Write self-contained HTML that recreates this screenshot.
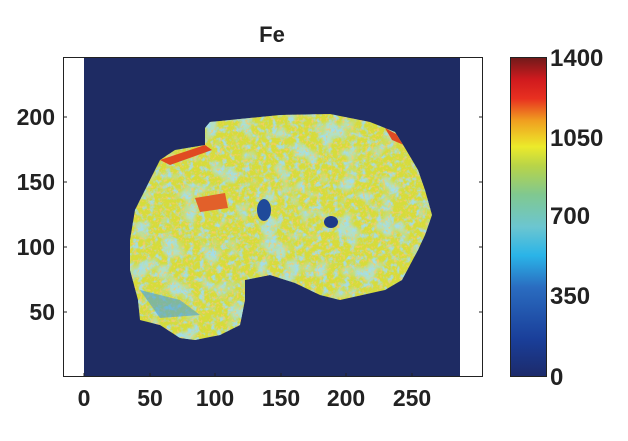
<!DOCTYPE html>
<html><head><style>
body{margin:0;background:#fff;width:628px;height:436px;overflow:hidden;font-family:"Liberation Sans",Arial,sans-serif}
</style></head><body>
<svg width="628" height="436" xmlns="http://www.w3.org/2000/svg" font-family="Liberation Sans Narrow, Liberation Sans, Arial, sans-serif" font-weight="bold">
<defs>
<linearGradient id="cb" x1="0" y1="1" x2="0" y2="0">
<stop offset="0" stop-color="#1c2a6a"/>
<stop offset="0.12" stop-color="#1a3f9a"/>
<stop offset="0.28" stop-color="#2a6cc0"/>
<stop offset="0.38" stop-color="#2ab4e8"/>
<stop offset="0.47" stop-color="#6cc6d0"/>
<stop offset="0.57" stop-color="#80c890"/>
<stop offset="0.66" stop-color="#b8d448"/>
<stop offset="0.72" stop-color="#ecea2a"/>
<stop offset="0.8" stop-color="#f0a020"/>
<stop offset="0.87" stop-color="#e83020"/>
<stop offset="0.93" stop-color="#d01a1e"/>
<stop offset="1" stop-color="#6e1a1a"/>
</linearGradient>
<filter id="noise" x="0" y="0" width="100%" height="100%">
<feTurbulence type="fractalNoise" baseFrequency="0.18" numOctaves="3" seed="4"/>
<feColorMatrix type="matrix" values="0 0 0 0 0.35  0 0 0 0 0.72  0 0 0 0 0.88  4 0 0 0 -1.9"/>
</filter>
<filter id="noise2" x="0" y="0" width="100%" height="100%">
<feTurbulence type="fractalNoise" baseFrequency="0.35" numOctaves="2" seed="9"/>
<feColorMatrix type="matrix" values="0 0 0 0 0.95  0 0 0 0 0.6  0 0 0 0 0.15  5 0 0 0 -2.7"/>
</filter>
<filter id="noise3" x="0" y="0" width="100%" height="100%">
<feTurbulence type="fractalNoise" baseFrequency="0.05" numOctaves="2" seed="2"/>
<feColorMatrix type="matrix" values="0 0 0 0 0.4  0 0 0 0 0.75  0 0 0 0 0.8  5 0 0 0 -2.6"/>
</filter>
<clipPath id="blob"><polygon points="205,128 210,122 280,115 330,114 370,122 395,132 405,148 418,170 425,190 432,215 425,235 418,250 410,265 402,280 385,290 340,300 320,295 295,283 270,275 245,280 245,300 240,325 220,335 195,340 180,338 160,325 140,320 138,300 130,270 130,240 135,210 150,180 160,160 175,150 205,145"/></clipPath>
</defs>
<text x="272" y="42" font-size="22" text-anchor="middle" fill="#222">Fe</text>
<rect x="84" y="57" width="376" height="320" fill="#1e2b63"/>
<g clip-path="url(#blob)">
<rect x="120" y="100" width="320" height="250" fill="#d6dc3a"/>
<rect x="120" y="100" width="320" height="250" filter="url(#noise3)" opacity="0.8"/>
<rect x="120" y="100" width="320" height="250" filter="url(#noise)" opacity="0.9"/>
<rect x="120" y="100" width="320" height="250" filter="url(#noise2)" opacity="0.8"/>
<polygon points="160,160 205,145 212,150 170,165" fill="#e04a22"/>
<polygon points="195,198 225,193 228,208 200,212" fill="#e2602a"/>
<polygon points="385,128 398,135 404,145 392,140" fill="#e04a22"/>
<polygon points="140,290 180,300 200,315 160,318" fill="#4aa0d8" opacity="0.6"/>
</g>
<ellipse cx="264" cy="210" rx="7" ry="11" fill="#1f4a9a"/>
<ellipse cx="331" cy="222" rx="7" ry="6" fill="#1e3a88"/>
<rect x="63.5" y="57.5" width="419" height="319" fill="none" stroke="#222" stroke-width="1"/>
<g stroke="#222" stroke-width="1">
<line x1="84" y1="377" x2="84" y2="373"/><line x1="150" y1="377" x2="150" y2="373"/><line x1="215" y1="377" x2="215" y2="373"/><line x1="281" y1="377" x2="281" y2="373"/><line x1="346" y1="377" x2="346" y2="373"/><line x1="412" y1="377" x2="412" y2="373"/>
<line x1="63" y1="117" x2="67" y2="117"/><line x1="63" y1="182" x2="67" y2="182"/><line x1="63" y1="247" x2="67" y2="247"/><line x1="63" y1="312" x2="67" y2="312"/>
<line x1="483" y1="117" x2="479" y2="117"/><line x1="483" y1="182" x2="479" y2="182"/><line x1="483" y1="247" x2="479" y2="247"/><line x1="483" y1="312" x2="479" y2="312"/>
</g>
<g font-size="23" fill="#222" text-anchor="middle">
<text x="84" y="406">0</text><text x="150" y="406">50</text><text x="215" y="406">100</text><text x="281" y="406">150</text><text x="346" y="406">200</text><text x="412" y="406">250</text>
</g>
<g font-size="23" fill="#222" text-anchor="end">
<text x="55" y="125">200</text><text x="55" y="190">150</text><text x="55" y="255">100</text><text x="55" y="320">50</text>
</g>
<rect x="510" y="57" width="36" height="320" fill="url(#cb)"/>
<rect x="510.5" y="57.5" width="36" height="319" fill="none" stroke="#222"/>
<g font-size="24" fill="#222">
<text x="550" y="66">1400</text><text x="550" y="146">1050</text><text x="550" y="224">700</text><text x="550" y="304">350</text><text x="550" y="385">0</text>
</g>
</svg>
</body></html>
